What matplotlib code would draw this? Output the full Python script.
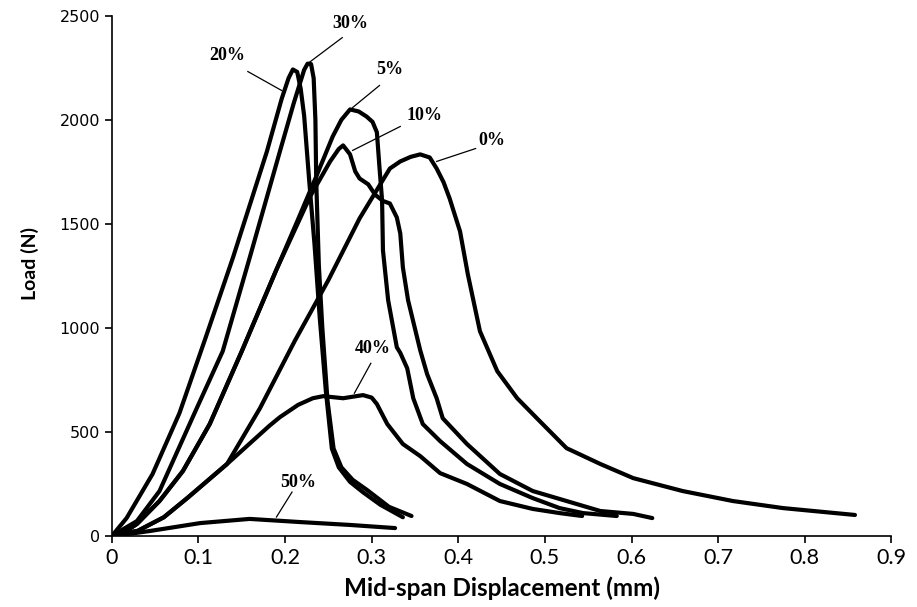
import matplotlib.pyplot as plt

# load-displacement curves
x0 = [0, 0.03, 0.06, 0.087, 0.133, 0.171, 0.211, 0.25, 0.286, 0.321, 0.333, 0.345, 0.356, 0.367, 0.375,
      0.383, 0.390, 0.402, 0.411, 0.425, 0.445, 0.468, 0.494, 0.525, 0.564, 0.602, 0.659, 0.717, 0.775, 0.858]
y0 = [0, 25, 90, 182, 346, 614, 936, 1230, 1526, 1766, 1800, 1822, 1834, 1819, 1766,
      1700, 1622, 1464, 1258, 984, 792, 662, 552, 422, 346, 278, 216, 168, 134, 101]

x5 = [0, 0.015, 0.029, 0.055, 0.082, 0.113, 0.150, 0.190, 0.214, 0.237, 0.255, 0.265, 0.275, 0.285, 0.294,
      0.301, 0.306, 0.309, 0.312, 0.313, 0.319, 0.329, 0.333, 0.341, 0.348, 0.359, 0.379, 0.410, 0.448,
      0.486, 0.517, 0.544, 0.583]
y5 = [0, 20, 58, 168, 312, 538, 888, 1280, 1512, 1738, 1920, 2000, 2050, 2040, 2016,
      1990, 1940, 1771, 1613, 1373, 1133, 907, 880, 806, 662, 538, 456, 346, 250,
      182, 134, 110, 96]

x10 = [0, 0.015, 0.029, 0.055, 0.082, 0.113, 0.150, 0.190, 0.229, 0.252, 0.262, 0.267, 0.275, 0.281, 0.286,
       0.296, 0.304, 0.313, 0.321, 0.329, 0.333, 0.336, 0.342, 0.356, 0.364, 0.375, 0.382, 0.410,
       0.448, 0.486, 0.525, 0.564, 0.602, 0.624]
y10 = [0, 20, 58, 168, 312, 538, 888, 1280, 1632, 1800, 1860, 1877, 1834, 1752, 1718,
       1690, 1640, 1610, 1598, 1531, 1454, 1291, 1133, 893, 778, 662, 566, 442,
       298, 216, 168, 120, 106, 86]

x20 = [0, 0.017, 0.047, 0.078, 0.108, 0.14, 0.179, 0.196, 0.204, 0.209, 0.214, 0.218, 0.222, 0.228, 0.234,
       0.240, 0.247, 0.254, 0.262, 0.275, 0.290, 0.310, 0.336]
y20 = [0, 86, 298, 590, 950, 1340, 1848, 2100, 2200, 2242, 2230, 2150, 2020, 1700, 1400,
       1050, 700, 420, 330, 260, 210, 150, 90]

x30 = [0, 0.029, 0.055, 0.098, 0.128, 0.16, 0.194, 0.210, 0.222, 0.226, 0.230, 0.233, 0.235, 0.236, 0.239,
       0.243, 0.249, 0.256, 0.265, 0.278, 0.295, 0.320, 0.346]
y30 = [0, 72, 216, 614, 888, 1350, 1848, 2080, 2240, 2270, 2268, 2200, 2000, 1700, 1300,
       1000, 650, 420, 330, 270, 220, 140, 96]

x40 = [0, 0.03, 0.06, 0.087, 0.133, 0.182, 0.194, 0.215, 0.232, 0.244, 0.267, 0.290, 0.300, 0.306, 0.318,
       0.336, 0.356, 0.379, 0.410, 0.448, 0.486, 0.517, 0.543]
y40 = [0, 25, 90, 182, 346, 530, 571, 630, 662, 672, 662, 677, 665, 634, 538,
       442, 384, 302, 250, 168, 130, 110, 96]

x50 = [0, 0.02, 0.044, 0.102, 0.159, 0.217, 0.275, 0.327]
y50 = [0, 10, 24, 62, 82, 67, 53, 38]

# label text, text position, leader line ends
labels = ['30%', '20%', '5%', '10%', '0%', '40%', '50%']
text_xy = [(0.275, 2462), (0.133, 2309), (0.321, 2242), (0.361, 2021), (0.439, 1901), (0.301, 902), (0.215, 259)]
line_start = [(0.266, 2395), (0.157, 2232), (0.309, 2165), (0.333, 1968), (0.420, 1862), (0.299, 830), (0.208, 211)]
line_end = [(0.226, 2270), (0.196, 2141), (0.278, 2059), (0.278, 1853), (0.375, 1800), (0.280, 686), (0.190, 91)]

fig = plt.figure(figsize=(9.17, 6.07), dpi=100)
ax = fig.add_axes([0.122, 0.117, 0.850, 0.857])

for xs, ys in [(x0, y0), (x5, y5), (x10, y10), (x20, y20), (x30, y30), (x40, y40), (x50, y50)]:
    ax.plot(xs, ys, color='black', lw=3.0, solid_capstyle='round', solid_joinstyle='round')

for lab, t, s, e in zip(labels, text_xy, line_start, line_end):
    ax.plot([s[0], e[0]], [s[1], e[1]], color='black', lw=0.9)
    ax.text(t[0], t[1], lab, ha='center', va='center', fontsize=13, fontweight='bold',
            family=['Liberation Serif', 'DejaVu Serif'])

ax.set_xlim(0, 0.9)
ax.set_ylim(0, 2500)
ax.set_xticks([i / 10 for i in range(10)])
ax.set_xticklabels(['0'] + ['%.1f' % (i / 10) for i in range(1, 10)])
ax.set_yticks(range(0, 2501, 500))

for s in ['top', 'right']:
    ax.spines[s].set_visible(False)
for s in ['left', 'bottom']:
    ax.spines[s].set_linewidth(1.2)
ax.tick_params(direction='out', length=5, width=1.2)

for lbl in ax.get_xticklabels():
    lbl.set_family(['Lato', 'DejaVu Sans'])
    lbl.set_fontsize(15.5)
for lbl in ax.get_yticklabels():
    lbl.set_family(['DejaVu Sans'])
    lbl.set_fontsize(11.5)

ax.set_xlabel('Mid-span Displacement (mm)', fontsize=17.5, fontweight='bold',
              family=['Lato', 'DejaVu Sans'], labelpad=6)
ax.set_ylabel('Load (N)', fontsize=14, fontweight='bold',
              family=['Lato', 'DejaVu Sans'])
ax.yaxis.set_label_coords(-0.094, 0.523)

fig.savefig('out.png', dpi=100)
